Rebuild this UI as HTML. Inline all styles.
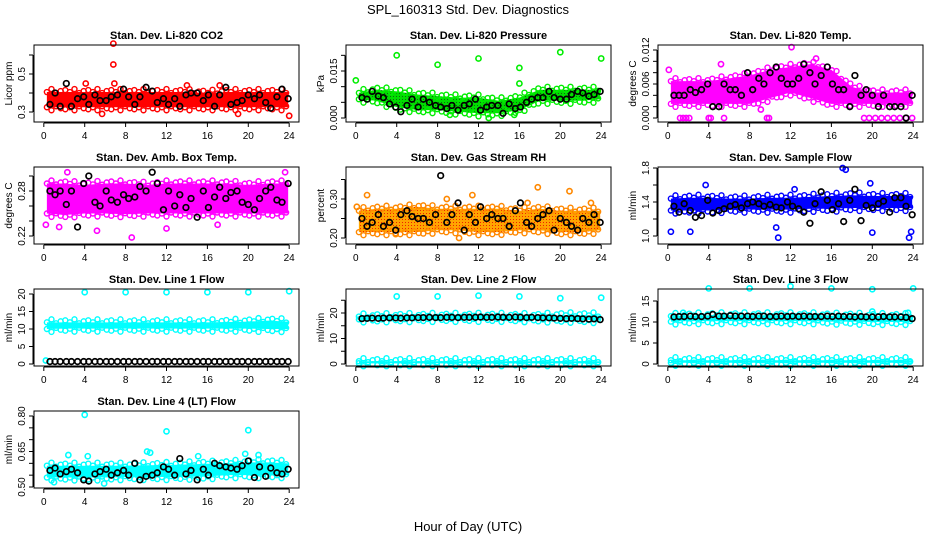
<!DOCTYPE html>
<html><head><meta charset="utf-8"><style>
html,body{margin:0;padding:0;background:#fff;}
svg{display:block;font-family:"Liberation Sans",sans-serif;}
</style></head><body>
<svg id="chart" width="936" height="540" viewBox="0 0 936 540" xmlns="http://www.w3.org/2000/svg">
<defs>
<pattern id="pgreen" width="3" height="3" patternUnits="userSpaceOnUse"><rect width="3" height="3" fill="#00dd00"/><rect width="1" height="1" fill="#116611"/></pattern>
<pattern id="porange" width="3" height="3" patternUnits="userSpaceOnUse"><rect width="3" height="3" fill="#ffa500"/><rect width="1" height="1" fill="#ee2200"/></pattern>
</defs>
<text x="468" y="14" text-anchor="middle" font-size="13">SPL_160313  Std. Dev. Diagnostics</text>
<text x="468" y="531" text-anchor="middle" font-size="13">Hour of Day (UTC)</text>
</svg>
<script>
// band hours (cloud envelope sample points)
const bandHours=[0.3,2,4,6,8,10,12,14,16,18,20,22,23.9];
const blackHours=[0.6,1.1,1.6,2.2,2.7,3.3,3.9,4.4,5.0,5.5,6.1,6.6,7.2,7.8,8.3,8.9,9.4,10.0,10.6,11.1,11.7,12.2,12.8,13.3,13.9,14.4,15.0,15.6,16.1,16.7,17.2,17.8,18.3,18.9,19.4,20.0,20.6,21.1,21.7,22.2,22.8,23.3,23.9];
// CO2
const co2Low=[0.325,0.325,0.325,0.325,0.325,0.325,0.325,0.325,0.325,0.325,0.325,0.325,0.325];
const co2High=[0.405,0.405,0.405,0.405,0.405,0.405,0.405,0.405,0.40,0.405,0.405,0.405,0.405];
const co2Black=[0.34,0.40,0.33,0.45,0.33,0.37,0.38,0.34,0.39,0.36,0.36,0.38,0.39,0.42,0.38,0.34,0.38,0.43,0.41,0.35,0.37,0.34,0.37,0.33,0.39,0.40,0.40,0.36,0.39,0.33,0.39,0.43,0.34,0.35,0.36,0.39,0.37,0.39,0.35,0.32,0.38,0.42,0.37];
const co2OutH=[6.8,6.8,24,5.7,14,4.1,17.2,6.9,19];
const co2OutV=[0.66,0.55,0.28,0.29,0.44,0.45,0.44,0.45,0.29];
// Pressure
const prLow=[0.006,0.0055,0.0035,0.0025,0.0025,0.002,0.0015,0.0015,0.0025,0.0055,0.0055,0.0055,0.006];
const prHigh=[0.008,0.009,0.0085,0.0075,0.007,0.0065,0.0065,0.0055,0.0065,0.009,0.009,0.009,0.009];
const prBlack=[0.0065,0.006,0.0085,0.007,0.0065,0.0045,0.0035,0.002,0.004,0.006,0.0035,0.006,0.005,0.004,0.0035,0.003,0.004,0.0025,0.004,0.0045,0.006,0.0025,0.0035,0.004,0.004,0.0015,0.0045,0.003,0.0035,0.005,0.006,0.0065,0.0065,0.0085,0.0065,0.006,0.006,0.0075,0.0085,0.008,0.007,0.0075,0.0085];
const prOutH=[4,8,12,16,16,20,24,0,13,9.2,15.5];
const prOutV=[0.020,0.017,0.019,0.016,0.011,0.021,0.019,0.012,0.0,0.001,0.001];
// Li-820 temp
const tLow=[0.0025,0.0025,0.0025,0.0025,0.0025,0.0035,0.0045,0.0035,0.0025,0.0025,0.0025,0.0025,0.0025];
const tHigh=[0.0065,0.0065,0.0065,0.007,0.0075,0.0085,0.009,0.0095,0.0085,0.0055,0.0045,0.0045,0.0045];
const tBlack=[0.004,0.004,0.004,0.005,0.0045,0.005,0.006,0.002,0.002,0.006,0.005,0.005,0.004,0.008,0.005,0.007,0.006,0.008,0.009,0.007,0.006,0.006,0.007,0.0095,0.008,0.006,0.0075,0.009,0.006,0.005,0.005,0.002,0.0075,0.004,0.005,0.004,0.002,0.004,0.002,0.002,0.002,0.0,0.004];
const tOutH=[1.2,1.5,1.8,2.1,4.0,4.2,5.5,9.7,9.9,19.2,19.7,20.3,20.9,21.5,22.1,22.7,23.3,23.9,12.1,0.1,5.2,14.5,9.1];
const tOutV=[0,0,0,0,0,0,0,0,0,0,0,0,0,0,0,0,0,0,0.0125,0.0085,0.0095,0.0105,0.0015];
// Amb box temp
const abLow=[0.25,0.248,0.25,0.25,0.249,0.25,0.25,0.25,0.25,0.25,0.25,0.25,0.25];
const abHigh=[0.29,0.29,0.288,0.29,0.29,0.288,0.29,0.29,0.29,0.29,0.288,0.29,0.29];
const abBlack=[0.28,0.275,0.28,0.262,0.28,0.232,0.29,0.30,0.265,0.26,0.28,0.268,0.265,0.275,0.27,0.272,0.286,0.28,0.305,0.29,0.255,0.28,0.26,0.275,0.258,0.27,0.245,0.28,0.258,0.272,0.285,0.27,0.278,0.28,0.265,0.262,0.255,0.27,0.28,0.285,0.268,0.265,0.29];
const abOutH=[2.3,8.6,5.2,0.2,23.6,1.5,12,17];
const abOutV=[0.305,0.218,0.227,0.235,0.305,0.232,0.23,0.235];
// Gas stream RH
const rhLow=[0.215,0.215,0.215,0.215,0.22,0.22,0.215,0.215,0.22,0.22,0.215,0.215,0.22];
const rhHigh=[0.27,0.275,0.275,0.28,0.275,0.275,0.275,0.275,0.27,0.275,0.27,0.27,0.27];
const rhBlack=[0.25,0.23,0.24,0.26,0.23,0.24,0.22,0.26,0.27,0.255,0.25,0.25,0.24,0.26,0.36,0.24,0.26,0.29,0.22,0.26,0.24,0.28,0.25,0.26,0.25,0.25,0.23,0.27,0.29,0.24,0.23,0.25,0.26,0.27,0.22,0.25,0.24,0.23,0.22,0.25,0.24,0.26,0.24];
const rhOutH=[0.1,1.1,8.9,11.4,16.8,17.8,20.9,23.0,10.1,3.9];
const rhOutV=[0.28,0.31,0.30,0.31,0.29,0.33,0.32,0.29,0.20,0.21];
// Sample flow
const sfLow=[1.3,1.3,1.3,1.31,1.31,1.31,1.31,1.32,1.32,1.33,1.33,1.33,1.33];
const sfHigh=[1.44,1.45,1.45,1.44,1.44,1.45,1.45,1.46,1.47,1.48,1.47,1.47,1.47];
const sfBlack=[1.35,1.28,1.38,1.30,1.22,1.24,1.42,1.27,1.30,1.32,1.35,1.37,1.33,1.38,1.40,1.38,1.35,1.37,1.34,1.33,1.40,1.35,1.32,1.28,1.15,1.38,1.52,1.42,1.31,1.38,1.17,1.42,1.55,1.18,1.36,1.33,1.38,1.41,1.28,1.45,1.45,1.35,1.25];
const sfOutH=[0.3,3.7,10.6,10.8,17.1,17.4,19.8,20.0,23.6,23.8,2.2,12.4];
const sfOutV=[1.05,1.60,1.10,0.98,1.80,1.78,1.62,1.04,0.98,1.05,1.05,1.55];
// Line 1
const l1Low=[10.0,10.1,10.1,10.1,10.1,10.1,10.1,10.1,10.1,10.1,10.1,10.0,10.0];
const l1High=[11.9,11.9,11.9,11.9,11.9,11.9,11.9,11.9,11.9,12.0,12.1,12.4,12.1];
const l1Black=[0.7,0.7,0.7,0.7,0.7,0.7,0.7,0.7,0.7,0.7,0.7,0.7,0.7,0.7,0.7,0.7,0.7,0.7,0.7,0.7,0.7,0.7,0.7,0.7,0.7,0.7,0.7,0.7,0.7,0.7,0.7,0.7,0.7,0.7,0.7,0.7,0.7,0.7,0.7,0.7,0.7,0.7,0.7];
const l1OutH=[4,8,12,16,20,24,0.2];
const l1OutV=[20.5,20.5,20.5,20.5,20.5,20.8,1.0];
// Line 2
const l2Low=[17.5,17.5,17.6,17.6,17.7,17.7,17.7,17.7,17.6,17.5,17.4,17.3,17.2];
const l2High=[18.6,18.7,18.8,18.8,18.9,18.9,18.9,18.9,18.8,18.8,19.1,19.1,19.0];
const l2Black=[17.8,17.9,18.0,17.9,18.0,18.1,18.1,18.0,18.1,18.1,18.2,18.2,18.3,18.2,18.2,18.3,18.3,18.2,18.3,18.3,18.3,18.4,18.3,18.3,18.4,18.3,18.3,18.4,18.3,18.2,18.3,18.2,18.1,18.1,18.0,17.9,17.8,17.9,17.8,17.7,17.6,17.7,17.4];
const l2RowLow=[0.3,0.3,0.3,0.3,0.3,0.3,0.3,0.3,0.3,0.3,0.3,0.3,0.3];
const l2RowHigh=[1.1,1.1,1.1,1.1,1.1,1.1,1.1,1.1,1.1,1.1,1.1,1.1,1.1];
const l2OutH=[4,8,12,16,20,24];
const l2OutV=[26.5,26.5,26.8,26.5,25.8,26.0];
// Line 3
const l3Low=[10.1,10.2,10.2,10.2,10.2,10.2,10.2,10.2,10.1,10.1,10.0,10.0,10.0];
const l3High=[11.4,11.5,11.6,11.6,11.6,11.6,11.6,11.6,11.5,11.5,11.4,11.4,11.4];
const l3Black=[11.2,11.3,11.3,11.4,11.3,11.3,11.4,11.8,11.4,11.4,11.5,11.4,11.4,11.4,11.3,11.4,11.4,11.3,11.3,11.4,11.3,11.4,11.3,11.4,11.3,11.3,11.3,11.4,11.3,11.4,11.3,11.3,11.2,11.3,11.2,11.2,11.2,11.3,11.2,11.2,11.2,11.1,10.8];
const l3RowLow=[0.3,0.3,0.3,0.3,0.3,0.3,0.3,0.3,0.3,0.3,0.3,0.3,0.3];
const l3RowHigh=[0.9,0.9,0.9,0.9,0.9,0.9,0.9,0.9,0.9,0.9,0.9,0.9,0.9];
const l3OutH=[4,8,12,16,20,24,1.5,20,23.5];
const l3OutV=[18.0,18.0,18.5,18.0,17.8,18.0,12.2,12.5,12.2];
// Line 4
const l4Low=[0.54,0.54,0.54,0.54,0.542,0.542,0.542,0.543,0.545,0.55,0.55,0.55,0.55];
const l4High=[0.59,0.59,0.59,0.59,0.59,0.592,0.593,0.595,0.598,0.6,0.604,0.604,0.6];
const l4Black=[0.57,0.58,0.555,0.565,0.575,0.56,0.53,0.525,0.555,0.565,0.575,0.55,0.56,0.57,0.55,0.6,0.53,0.545,0.55,0.56,0.585,0.575,0.55,0.62,0.555,0.57,0.53,0.575,0.55,0.6,0.59,0.585,0.58,0.575,0.59,0.61,0.54,0.585,0.545,0.58,0.56,0.555,0.575];
const l4OutH=[4,12,20,10.1,10.4,2.4,4.3,1.0,5.9,19.7,21.0,15.1];
const l4OutV=[0.805,0.735,0.74,0.65,0.645,0.635,0.63,0.52,0.515,0.64,0.635,0.63];

const NS='http://www.w3.org/2000/svg';
const svg=document.getElementById('chart');
const colLeft=[34,346,658], rowTop=[45,167,289,411], W=265, H=77;
function mk(tag,attrs,parent){const e=document.createElementNS(NS,tag);for(const k in attrs)e.setAttribute(k,attrs[k]);(parent||svg).appendChild(e);return e;}
function interp(hs,vs,h){if(h<=hs[0])return vs[0];for(let i=1;i<hs.length;i++){if(h<=hs[i]){const t=(h-hs[i-1])/(hs[i]-hs[i-1]);return vs[i-1]+t*(vs[i]-vs[i-1]);}}return vs[vs.length-1];}

const panels=[
 {name:'co2',title:'Stan. Dev. Li-820 CO2',ylab:'Licor ppm',r:0,c:0,ref:[0.3,67,0.5,29],ticks:[0.3,0.4,0.5,0.6],labs:['0.3','','0.5',''],color:'#ff0000',fill:'#ff0000',bands:[[co2Low,co2High]],black:co2Black,oh:co2OutH,ov:co2OutV},
 {name:'pressure',title:'Stan. Dev. Li-820 Pressure',ylab:'kPa',r:0,c:1,ref:[0,73,0.015,26],ticks:[0,0.005,0.01,0.015,0.02],labs:['0.000','','','0.015',''],color:'#00ee00',fill:'url(#pgreen)',bands:[[prLow,prHigh]],black:prBlack,oh:prOutH,ov:prOutV},
 {name:'li820-temp',title:'Stan. Dev. Li-820 Temp.',ylab:'degrees C',r:0,c:2,ref:[0,73,0.012,5],ticks:[0,0.002,0.004,0.006,0.008,0.01,0.012],labs:['0.000','','','0.006','','','0.012'],color:'#ff00ff',fill:'#ff00ff',bands:[[tLow,tHigh]],black:tBlack,oh:tOutH,ov:tOutV},
 {name:'amb-box-temp',title:'Stan. Dev. Amb. Box Temp.',ylab:'degrees C',r:1,c:0,ref:[0.22,69,0.28,24],ticks:[0.22,0.24,0.26,0.28,0.30],labs:['0.22','','','0.28',''],color:'#ff00ff',fill:'#ff00ff',bands:[[abLow,abHigh]],black:abBlack,oh:abOutH,ov:abOutV},
 {name:'gas-stream-rh',title:'Stan. Dev. Gas Stream RH',ylab:'percent',r:1,c:1,ref:[0.2,71,0.3,32],ticks:[0.2,0.25,0.3,0.35],labs:['0.20','','0.30',''],color:'#ff8800',fill:'url(#porange)',bands:[[rhLow,rhHigh]],black:rhBlack,oh:rhOutH,ov:rhOutV},
 {name:'sample-flow',title:'Stan. Dev. Sample Flow',ylab:'ml/min',r:1,c:2,ref:[1.0,69,1.8,1],ticks:[1.0,1.2,1.4,1.6,1.8],labs:['1.0','','1.4','','1.8'],color:'#0000ff',fill:'#0000ff',bands:[[sfLow,sfHigh]],black:sfBlack,oh:sfOutH,ov:sfOutV},
 {name:'line1-flow',title:'Stan. Dev. Line 1 Flow',ylab:'ml/min',r:2,c:0,ref:[0,75,20,5],ticks:[0,5,10,15,20],labs:['0','5','10','15','20'],color:'#00ffff',fill:'#00ffff',bands:[[l1Low,l1High]],black:l1Black,oh:l1OutH,ov:l1OutV},
 {name:'line2-flow',title:'Stan. Dev. Line 2 Flow',ylab:'ml/min',r:2,c:1,ref:[0,75,20,24],ticks:[0,5,10,15,20,25],labs:['0','','10','','20',''],color:'#00ffff',fill:'#00ffff',bands:[[l2Low,l2High],[l2RowLow,l2RowHigh]],black:l2Black,oh:l2OutH,ov:l2OutV},
 {name:'line3-flow',title:'Stan. Dev. Line 3 Flow',ylab:'ml/min',r:2,c:2,ref:[0,75,15,12],ticks:[0,5,10,15],labs:['0','5','10','15'],color:'#00ffff',fill:'#00ffff',bands:[[l3Low,l3High],[l3RowLow,l3RowHigh]],black:l3Black,oh:l3OutH,ov:l3OutV},
 {name:'line4-flow',title:'Stan. Dev. Line 4 (LT) Flow',ylab:'ml/min',r:3,c:0,ref:[0.5,76,0.8,5],ticks:[0.5,0.55,0.6,0.65,0.7,0.75,0.8],labs:['0.50','','','0.65','','','0.80'],color:'#00ffff',fill:'#00ffff',bands:[[l4Low,l4High]],black:l4Black,oh:l4OutH,ov:l4OutV}
];

panels.forEach(p=>{
 const L=colLeft[p.c], T=rowTop[p.r];
 const g=mk('g',{});
 
 
 const xS=h=>L+W*(h+0.96)/25.92;
 const [v0,p0,v1,p1]=p.ref;
 const yS=v=>T+p0+(v-v0)*(p1-p0)/(v1-v0);
 const t=mk('text',{x:L+W/2,y:T-6,'text-anchor':'middle','font-size':11,'font-weight':'bold'},g);t.textContent=p.title;
 
 
 const cl=mk('g',{},g);
 p.bands.forEach(([lo,hi])=>{
  let pts=[];
  bandHours.forEach((h,i)=>pts.push(xS(h)+','+yS(hi[i])));
  for(let i=bandHours.length-1;i>=0;i--)pts.push(xS(bandHours[i])+','+yS(lo[i]));
  const poly=mk('polygon',{points:pts.join(' '),fill:p.fill,stroke:'none'},cl);
  
  
  let k=0;
  for(let h=0.3;h<=23.95;h+=0.45){
   k++;
   const hv=interp(bandHours,hi,h), lv=interp(bandHours,lo,h);
   const off=[-2,0,-3,1,-1][k%5];
   [hv,lv].forEach((v,j)=>{
    const c=mk('circle',{cx:xS(h),cy:yS(v)+(j?-off:off),r:2.5,fill:'none',stroke:p.color,'stroke-width':1.4},cl);
    
    
   });
  }
 });
 p.oh.forEach((h,i)=>{
  const c=mk('circle',{cx:xS(h),cy:yS(p.ov[i]),r:2.6,fill:'none',stroke:p.color,'stroke-width':1.6},g);
  
  
 });
 blackHours.forEach((h,i)=>{
  const c=mk('circle',{cx:xS(h),cy:yS(p.black[i]),r:2.8,fill:'none',stroke:'#000','stroke-width':1.7},g);
  
  
 });
 const box=mk('rect',{x:L,y:T,width:W,height:H,fill:'none',stroke:'#000','stroke-width':1},g);
 
 
 const xa=mk('g',{},g);
 
 
 mk('line',{x1:xS(0),x2:xS(24),y1:T+H+1,y2:T+H+1,stroke:'#000'},xa);
 for(let h=0;h<=24;h+=4){
  mk('line',{x1:xS(h),x2:xS(h),y1:T+H+1,y2:T+H+5,stroke:'#000'},xa);
  const tl=mk('text',{x:xS(h),y:T+H+17,'text-anchor':'middle','font-size':10},xa);tl.textContent=h;
 }
 const ya=mk('g',{},g);
 
 
 const tk=p.ticks;
 mk('line',{x1:L-1,x2:L-1,y1:yS(tk[0]),y2:yS(tk[tk.length-1]),stroke:'#000'},ya);
 tk.forEach((v,i)=>{
  const y=yS(v);
  mk('line',{x1:L-5,x2:L-1,y1:y,y2:y,stroke:'#000'},ya);
  if(p.labs[i]){const tl=mk('text',{x:L-9,y:y,'text-anchor':'middle','font-size':10,transform:`rotate(-90 ${L-9} ${y})`},ya);tl.textContent=p.labs[i];}
 });
 const yl=mk('text',{x:L-22,y:T+H/2,'text-anchor':'middle','font-size':10,transform:`rotate(-90 ${L-22} ${T+H/2})`},g);yl.textContent=p.ylab;
 
 
});
</script>
</body></html>
